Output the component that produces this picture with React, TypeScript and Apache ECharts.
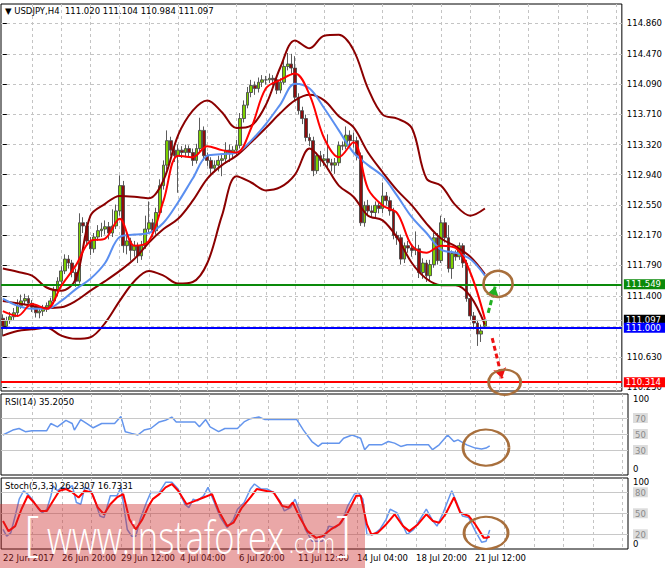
import React, { useEffect, useRef } from "react";
import * as echarts from "echarts";

const FONT = "DejaVu Sans";

// time axis
const tickLabels = ["22 Jun 2017", "26 Jun 20:00", "29 Jun 12:00", "4 Jul 04:00", "6 Jul 20:00", "11 Jul 12:00", "14 Jul 04:00", "18 Jul 20:00", "21 Jul 12:00"];
const labelBars = [0, 16, 32, 48, 64, 80, 96, 112, 128];
const gridBars = [8, 16, 24, 32, 40, 48, 56, 64, 72, 80, 88, 96, 104, 112, 120, 128, 136, 144, 152, 160, 168];
const slotCount = 170;

// price axis
const priceTicks = [114.86, 114.47, 114.09, 113.71, 113.32, 112.94, 112.55, 112.17, 111.79, 111.4, 111.02, 110.63, 110.25];
const priceLabels = [114.86, 114.47, 114.09, 113.71, 113.32, 112.94, 112.55, 112.17, 111.79, 111.4, 110.63, 110.25];

// levels
const supportLevel = 111.549;
const bidLevel = 111.097;
const pivotLevel = 111.0;
const targetLevel = 110.314;

// candles: [open, close, low, high]
const candles = [
  [111.12, 111.02, 110.89, 111.17], [111.02, 111.09, 110.98, 111.14], [111.09, 111.14, 111.05, 111.2], [111.14, 111.19, 111.1, 111.25],
  [111.19, 111.28, 111.15, 111.36], [111.28, 111.34, 111.24, 111.42], [111.34, 111.37, 111.3, 111.43], [111.37, 111.31, 111.27, 111.41],
  [111.31, 111.26, 111.2, 111.35], [111.26, 111.19, 111.13, 111.3], [111.19, 111.21, 111.12, 111.27], [111.21, 111.25, 111.15, 111.29],
  [111.25, 111.28, 111.2, 111.32], [111.28, 111.34, 111.24, 111.38], [111.34, 111.47, 111.3, 111.52], [111.47, 111.59, 111.4, 111.64],
  [111.59, 111.72, 111.55, 111.78], [111.72, 111.87, 111.68, 111.93], [111.87, 111.82, 111.75, 111.92], [111.82, 111.7, 111.64, 111.86],
  [111.7, 111.59, 111.52, 111.75], [111.59, 112.33, 111.56, 112.45], [112.33, 112.29, 112.2, 112.4], [112.29, 112.1, 112.04, 112.34],
  [112.1, 112.0, 111.92, 112.15], [112.0, 112.15, 111.95, 112.2], [112.15, 112.23, 112.1, 112.3], [112.23, 112.25, 112.15, 112.33],
  [112.25, 112.28, 112.18, 112.36], [112.28, 112.2, 112.12, 112.34], [112.2, 112.29, 112.15, 112.5], [112.29, 112.48, 112.25, 112.56],
  [112.48, 112.8, 112.42, 112.93], [112.8, 112.04, 111.95, 112.86], [112.04, 112.1, 111.93, 112.18], [112.1, 111.98, 111.85, 112.14],
  [111.98, 112.04, 111.9, 112.1], [112.04, 111.91, 111.82, 112.08], [111.91, 112.04, 111.86, 112.1], [112.04, 112.25, 112.0, 112.42],
  [112.25, 112.33, 112.2, 112.6], [112.33, 112.23, 112.15, 112.38], [112.23, 112.46, 112.18, 112.52], [112.46, 112.8, 112.42, 112.88],
  [112.8, 113.06, 112.75, 113.12], [113.06, 113.37, 113.0, 113.5], [113.37, 113.25, 113.18, 113.42], [113.25, 113.18, 113.1, 113.3],
  [113.18, 113.25, 112.71, 113.32], [113.25, 113.22, 113.15, 113.3], [113.22, 113.27, 113.16, 113.32], [113.27, 113.22, 113.16, 113.31],
  [113.22, 113.12, 113.05, 113.27], [113.12, 113.27, 113.08, 113.33], [113.27, 113.5, 113.22, 113.66], [113.5, 113.18, 113.12, 113.55],
  [113.18, 113.12, 113.05, 113.22], [113.12, 113.02, 112.95, 113.16], [113.02, 113.06, 112.97, 113.12], [113.06, 113.12, 112.98, 113.18],
  [113.12, 113.14, 112.92, 113.2], [113.14, 113.25, 113.08, 113.35], [113.25, 113.22, 113.1, 113.32], [113.22, 113.25, 113.15, 113.3],
  [113.25, 113.31, 113.18, 113.38], [113.31, 113.65, 113.27, 113.72], [113.65, 113.82, 113.6, 113.88], [113.82, 113.98, 113.78, 114.05],
  [113.98, 114.07, 113.92, 114.14], [114.07, 114.03, 113.95, 114.12], [114.03, 114.11, 113.98, 114.17], [114.11, 114.14, 114.05, 114.2],
  [114.14, 114.14, 114.08, 114.19], [114.14, 114.16, 114.1, 114.22], [114.16, 114.14, 114.07, 114.2], [114.14, 114.01, 113.96, 114.18],
  [114.01, 114.11, 113.97, 114.16], [114.11, 114.31, 114.08, 114.38], [114.31, 114.34, 114.26, 114.48], [114.34, 114.29, 114.2, 114.47],
  [114.29, 113.92, 113.88, 114.44], [113.92, 113.75, 113.7, 113.97], [113.75, 113.65, 113.58, 113.8], [113.65, 113.41, 113.36, 113.7],
  [113.41, 113.37, 113.3, 113.46], [113.37, 112.99, 112.92, 113.42], [112.99, 113.18, 112.95, 113.22], [113.18, 113.12, 113.04, 113.24],
  [113.12, 113.14, 113.05, 113.2], [113.14, 113.09, 113.0, 113.45], [113.09, 113.06, 112.98, 113.14], [113.06, 113.09, 112.95, 113.15],
  [113.09, 113.31, 113.05, 113.36], [113.31, 113.3, 113.25, 113.36], [113.3, 113.44, 113.26, 113.55], [113.44, 113.37, 113.3, 113.5],
  [113.37, 113.37, 113.28, 113.47], [113.37, 113.18, 113.12, 113.42], [113.18, 112.33, 112.29, 113.22], [112.33, 112.55, 112.28, 112.6],
  [112.55, 112.48, 112.42, 112.62], [112.48, 112.46, 112.4, 112.55], [112.46, 112.55, 112.4, 112.6], [112.55, 112.51, 112.45, 112.58],
  [112.51, 112.67, 112.45, 112.84], [112.67, 112.61, 112.55, 112.72], [112.61, 112.48, 112.42, 112.66], [112.48, 112.17, 112.12, 112.52],
  [112.17, 112.14, 112.05, 112.22], [112.14, 111.87, 111.8, 112.18], [111.87, 112.04, 111.82, 112.08], [112.04, 112.01, 111.95, 112.1],
  [112.01, 111.98, 111.9, 112.06], [111.98, 112.0, 111.92, 112.22], [112.0, 111.7, 111.63, 112.05], [111.7, 111.82, 111.62, 111.88],
  [111.82, 111.66, 111.58, 111.86], [111.66, 111.8, 111.6, 111.86], [111.8, 112.14, 111.76, 112.2], [112.14, 111.85, 111.8, 112.2],
  [111.85, 112.33, 111.82, 112.42], [112.33, 112.14, 112.08, 112.39], [112.14, 111.75, 111.7, 112.3], [111.75, 111.94, 111.62, 111.98],
  [111.94, 111.9, 111.85, 111.98], [111.9, 112.04, 111.86, 112.08], [112.04, 111.82, 111.76, 112.07], [111.82, 111.37, 111.33, 111.86],
  [111.37, 111.15, 111.1, 111.42], [111.15, 111.06, 110.98, 111.2], [111.06, 110.92, 110.77, 111.1], [110.92, 110.96, 110.82, 111.04],
  [111.02, 111.097, 110.984, 111.104],
];

// indicator lines sampled every 4 bars
const sampleBars = [0, 4, 8, 12, 16, 20, 24, 28, 32, 36, 40, 44, 48, 52, 56, 60, 64, 68, 72, 76, 80, 84, 88, 92, 96, 100, 104, 108, 112, 116, 120, 124, 128, 132];
const upperBand = [111.75, 111.71, 111.66, 111.51, 111.47, 111.62, 112.42, 112.57, 112.67, 112.66, 112.64, 112.87, 113.44, 113.75, 113.88, 113.73, 113.53, 113.56, 113.82, 114.3, 114.64, 114.54, 114.7, 114.71, 114.52, 114.03, 113.7, 113.65, 113.53, 112.89, 112.8, 112.55, 112.42, 112.51];
const middleBand = [111.34, 111.31, 111.28, 111.25, 111.26, 111.34, 111.47, 111.59, 111.72, 111.87, 112.08, 112.25, 112.38, 112.61, 112.89, 113.06, 113.18, 113.35, 113.53, 113.72, 113.88, 113.95, 113.88, 113.68, 113.54, 113.22, 112.97, 112.74, 112.55, 112.32, 112.13, 112.03, 111.9, 111.68];
const lowerBand = [110.9, 110.96, 110.98, 111.0, 110.9, 110.86, 110.88, 111.06, 111.34, 111.59, 111.72, 111.66, 111.56, 111.58, 111.82, 112.42, 112.92, 112.84, 112.74, 112.78, 112.94, 113.27, 113.08, 112.8, 112.66, 112.42, 112.36, 112.14, 111.82, 111.62, 111.54, 111.54, 111.4, 111.04];
const fastMA = [111.21, 111.15, 111.3, 111.24, 111.53, 111.79, 112.1, 112.13, 112.38, 112.04, 112.1, 112.61, 113.18, 113.16, 113.3, 113.25, 113.22, 113.53, 114.03, 114.14, 114.22, 113.95, 113.4, 113.16, 113.35, 112.76, 112.55, 112.45, 112.04, 111.95, 112.04, 112.01, 111.7, 111.11];
const slowMA = [111.37, 111.28, 111.24, 111.24, 111.34, 111.49, 111.62, 111.82, 112.15, 112.18, 112.2, 112.33, 112.59, 112.89, 113.18, 113.2, 113.22, 113.37, 113.58, 113.83, 114.09, 114.03, 113.78, 113.5, 113.22, 113.06, 112.92, 112.67, 112.4, 112.2, 111.99, 111.95, 111.87, 111.66];

// RSI(14): [bar, value]
const rsiPoints = [[0, 48.8], [2.7, 54.9], [4.4, 56.9], [6.1, 52.9], [7.9, 54.1], [11.9, 54.1], [13, 63.1], [14.8, 59], [17.1, 67.1], [18.8, 63.1], [19.4, 54.9], [21.1, 68], [22.8, 63.1], [24.5, 57.8], [26.8, 63.1], [30.3, 63.1], [32, 72], [33.2, 52.9], [34.9, 50.8], [36.6, 48.8], [38.3, 54.9], [40.1, 56.9], [42.4, 65.1], [44.1, 67.1], [45.8, 71.2], [47, 65.1], [52.1, 65.1], [53.3, 59], [55, 68], [56.2, 59], [58.5, 52.9], [60.2, 56.9], [63.6, 56.9], [65.4, 65.1], [67.1, 69.2], [69.4, 71.2], [71.1, 68], [79.7, 68], [81.5, 54.9], [83.8, 40.6], [85.5, 34.5], [86.6, 38.6], [91.2, 38.6], [92.4, 44.7], [94.7, 48.8], [97, 44.7], [98.1, 30.4], [99.3, 36.5], [102.7, 36.5], [104.5, 40.6], [106.2, 38.6], [107.9, 34.5], [109.6, 36.5], [115.4, 36.5], [116.5, 30.4], [118.3, 36.5], [120.6, 48.8], [122.3, 40.6], [123.4, 42.7], [125.8, 36.5], [128.1, 32.4], [129.8, 31.2], [131, 32.4], [132, 35.2]];

// Stoch(5,3,3)
const stochMain = [[0, 26.9], [1, 17.3], [2.1, 22.1], [3.3, 46.2], [4.4, 70.2], [5.6, 82.2], [6.7, 77.4], [7.9, 70.2], [9.6, 55.8], [10.7, 51], [11.9, 55.8], [13, 75], [13.6, 89.4], [14.8, 82.2], [15.9, 87], [17.6, 84.6], [18.8, 89.4], [19.9, 65.4], [21.1, 63], [22.2, 87], [23.4, 84.6], [24.5, 75], [26.3, 46.2], [27.4, 43.8], [29.1, 75], [30.9, 75], [32, 87], [33.7, 26.9], [34.9, 17.3], [36, 17.3], [37.2, 41.3], [38.9, 65.4], [40.1, 79.8], [42.4, 79.8], [44.1, 94.2], [45.8, 94.2], [47.5, 84.6], [49.3, 63], [50.4, 58.2], [51.6, 70.2], [52.7, 67.8], [54.4, 75], [55.6, 87], [57.3, 65.4], [59, 43.8], [60.8, 29.3], [62.5, 41.3], [63.6, 55.8], [65.4, 65.4], [67.1, 84.6], [68.2, 91.8], [70, 84.6], [71.7, 84.6], [73.4, 79.8], [75.1, 67.8], [76.3, 53.4], [78, 58.2], [79.2, 70.2], [80.9, 46.2], [82, 26.9], [83.8, 10.1], [86.6, 10.1], [88.4, 31.7], [90.1, 29.3], [91.8, 36.5], [93.5, 60.6], [95.3, 77.4], [96.4, 79.8], [97.6, 70.2], [98.7, 19.7], [100.4, 19.7], [102.2, 26.9], [103.9, 41.3], [105, 55.8], [106.8, 51], [107.9, 38.9], [109.6, 19.7], [111.4, 26.9], [113.1, 41.3], [114.8, 55.8], [116.6, 38.9], [117.7, 31.7], [119.4, 51], [121.7, 82.2], [123.4, 60.6], [124.6, 46.2], [126.3, 43.8], [128.1, 24.5], [129.8, 8.7], [131, 10.1], [132, 26.2]];
const stochSignal = [[0, 38.9], [1.5, 24.5], [3.3, 31.7], [5, 55.8], [6.7, 75], [8.4, 65.4], [10.2, 53.4], [11.9, 53.4], [13.6, 67.8], [15.3, 82.2], [17.1, 84.6], [18.8, 79.8], [20.5, 72.6], [22.2, 82.2], [24, 79.8], [25.7, 58.2], [27.4, 48.6], [29.1, 63], [30.9, 72.6], [32.6, 77.4], [34.3, 41.3], [36, 26.9], [37.8, 41.3], [39.5, 60.6], [40.6, 70.2], [42.4, 77.4], [44.1, 87], [45.8, 91.8], [47.5, 82.2], [49.8, 63], [52.1, 67.8], [54.4, 72.6], [56.7, 77.4], [58.5, 53.4], [60.8, 31.7], [62.5, 36.5], [64.8, 58.2], [67.1, 72.6], [68.8, 84.6], [71.1, 82.2], [73.4, 79.8], [75.7, 60.6], [77.4, 58.2], [78.6, 65.4], [80.3, 46.2], [82.6, 24.5], [84.9, 14.9], [86.6, 17.3], [88.9, 26.9], [91.2, 34.1], [93.5, 51], [95.8, 75], [97, 75], [98.7, 34.1], [99.9, 19.7], [101.6, 22.1], [103.9, 34.1], [106.2, 48.6], [108.5, 31.7], [110.2, 24.5], [112.5, 34.1], [114.8, 48.6], [116.6, 38.9], [118.3, 36.5], [120, 48.6], [122.3, 72.6], [124, 51], [126.3, 46.2], [128.1, 34.1], [130.4, 14.9], [131.2, 14.9], [132, 16.7]];

const rsiLevels = [70, 50, 30];
const stochLevels = [80, 50, 20];

const categories = Array.from({ length: slotCount }, (_, i) => String(i));
const pair = (vals: number[]) => sampleBars.map((b, k) => [b, vals[k]]);

const dashed = { color: "#c4c4c4", type: [3, 3] as any, width: 1 };
const txt = { fontFamily: FONT, fontSize: 8.5, color: "#000" };

function levelLine(v: number, color: string, width: number, bg: string) {
  return {
    yAxis: v,
    lineStyle: { color, width, type: "solid" },
    label: { show: true, position: "end", distance: 2, formatter: v.toFixed(3), backgroundColor: bg, color: "#fff", padding: [1, 4, 0, 2], fontFamily: FONT, fontSize: 8.5 },
  };
}

function valueX(gridIndex: number, showLabels: boolean) {
  return {
    type: "value",
    gridIndex,
    min: -0.5,
    max: slotCount - 0.5,
    axisLine: { show: false },
    axisTick: { show: false, customValues: gridBars },
    splitLine: { show: true, lineStyle: dashed },
    axisLabel: showLabels
      ? { show: true, customValues: labelBars, align: "left", margin: 4, ...txt, formatter: (v: number) => tickLabels[labelBars.indexOf(Math.round(v))] ?? "" }
      : { show: false },
  };
}

// sub-window scale labels: levels get a grey box, the ends sit just inside the window
function levelRich(shift: number) {
  return {
    n: { ...txt },
    top: { ...txt, padding: [shift * 2, 0, 0, 0] },
    bot: { ...txt, padding: [0, 0, shift * 2, 0] },
    lv: { fontFamily: FONT, fontSize: 8.5, color: "#8a8a8a", backgroundColor: "#dcdcdc", padding: [1, 2, 0, 2] },
  };
}
function subLabel(levels: number[]) {
  return (v: number) => (levels.includes(v) ? `{lv|${v}}` : v === 100 ? `{top|${v}}` : `{bot|${v}}`);
}

const ring = { color: "rgba(0,0,0,0)", borderColor: "#a86f3c", borderWidth: 2.5 };

const option: any = {
  animation: false,
  backgroundColor: "#fff",
  title: [
    { text: "▼ USDJPY,H4  111.020 111.104 110.984 111.097", left: 5, top: 6, padding: 0, textStyle: { ...txt, fontWeight: "normal" } },
    { text: "RSI(14) 35.2050", left: 5, top: 397, padding: 0, textStyle: { ...txt, fontWeight: "normal" } },
    { text: "Stoch(5,3,3) 26.2307 16.7331", left: 5, top: 481, padding: 0, textStyle: { ...txt, fontWeight: "normal" } },
  ],
  grid: [
    { left: 1, width: 627, top: 4, height: 387, show: true, borderColor: "#000", borderWidth: 1, backgroundColor: "#fff" },
    { left: 1, width: 627, top: 394, height: 81, show: true, borderColor: "#000", borderWidth: 1, backgroundColor: "#fff" },
    { left: 1, width: 627, top: 478, height: 71, show: true, borderColor: "#000", borderWidth: 1, backgroundColor: "#fff" },
  ],
  xAxis: [
    { type: "category", gridIndex: 0, data: categories, boundaryGap: true, show: false },
    valueX(0, false),
    valueX(1, false),
    valueX(2, true),
  ],
  yAxis: [
    {
      type: "value", gridIndex: 0, position: "right", min: 110.199, max: 115.101, scale: true,
      axisLine: { show: false },
      axisTick: { show: true, length: 4, customValues: priceTicks, lineStyle: { color: "#000" } },
      axisLabel: { show: true, customValues: priceLabels, margin: 5, ...txt, formatter: (v: number) => v.toFixed(3) },
      splitLine: { show: true, lineStyle: dashed },
    },
    {
      type: "value", gridIndex: 1, position: "right", min: -1.2, max: 100,
      axisLine: { show: false },
      axisTick: { show: false, customValues: [100, 70, 50, 30, 0] },
      axisLabel: { show: true, customValues: [100, 70, 50, 30, 0], margin: 5, rich: levelRich(5), formatter: subLabel(rsiLevels) },
      splitLine: { show: false },
    },
    {
      type: "value", gridIndex: 2, position: "right", min: -1, max: 100.4,
      axisLine: { show: false },
      axisTick: { show: false, customValues: [100, 80, 50, 20, 0] },
      axisLabel: { show: true, customValues: [100, 80, 50, 20, 0], margin: 5, rich: levelRich(4), formatter: subLabel(stochLevels) },
      splitLine: { show: false },
    },
  ],
  series: [
    {
      type: "candlestick", xAxisIndex: 0, yAxisIndex: 0, data: candles, barWidth: 3.2, z: 3,
      itemStyle: { color: "#7cd000", color0: "#8e0c0c", borderColor: "#4a4a4a", borderColor0: "#4a4a4a", borderWidth: 0.9 },
      markLine: {
        silent: true, symbol: ["none", "none"], animation: false,
        data: [
          levelLine(bidLevel, "#c8c8c8", 1, "#000"),
          levelLine(supportLevel, "#0a8a0a", 2, "#0a8a0a"),
          levelLine(pivotLevel, "#0000ff", 2, "#0000ff"),
          levelLine(targetLevel, "#ff0000", 2, "#ff0000"),
        ],
      },
    },
    { type: "line", xAxisIndex: 1, yAxisIndex: 0, data: pair(upperBand), smooth: 0.35, symbol: "none", lineStyle: { color: "#8b0000", width: 2 }, z: 4 },
    { type: "line", xAxisIndex: 1, yAxisIndex: 0, data: pair(middleBand), smooth: 0.35, symbol: "none", lineStyle: { color: "#8b0000", width: 2 }, z: 4 },
    { type: "line", xAxisIndex: 1, yAxisIndex: 0, data: pair(lowerBand), smooth: 0.35, symbol: "none", lineStyle: { color: "#8b0000", width: 2 }, z: 4 },
    {
      type: "line", xAxisIndex: 1, yAxisIndex: 0, data: pair(slowMA), smooth: 0.35, symbol: "none", lineStyle: { color: "#5b8ff0", width: 2 }, z: 5,
      markLine: {
        silent: true, animation: false, symbol: ["none", "arrow"], symbolSize: 10, label: { show: false },
        data: [
          [{ coord: [132.9, 111.19], lineStyle: { color: "#22b022", width: 3, type: [5, 3] } }, { coord: [134.8, 111.52] }],
          [{ coord: [134.0, 110.87], lineStyle: { color: "#ee1111", width: 3, type: [5, 3] } }, { coord: [136.7, 110.36] }],
        ],
      },
      markPoint: {
        silent: true, animation: false, symbol: "circle", label: { show: false }, itemStyle: ring,
        data: [
          { coord: [135.6, 111.556], symbolSize: [29, 26] },
          { coord: [137.4, 110.31], symbolSize: [32, 25] },
        ],
      },
    },
    { type: "line", xAxisIndex: 1, yAxisIndex: 0, data: pair(fastMA), smooth: 0.35, symbol: "none", lineStyle: { color: "#ff0000", width: 2 }, z: 6 },
    {
      type: "line", xAxisIndex: 2, yAxisIndex: 1, data: rsiPoints, symbol: "none", lineStyle: { color: "#6495ed", width: 1.5 },
      markLine: { silent: true, symbol: ["none", "none"], label: { show: false }, lineStyle: { color: "#c8c8c8", width: 1, type: "solid" }, data: rsiLevels.map((v) => ({ yAxis: v })) },
      markPoint: { silent: true, symbol: "circle", label: { show: false }, itemStyle: ring, data: [{ coord: [131.0, 33], symbolSize: [46, 36] }] },
    },
    {
      type: "line", xAxisIndex: 3, yAxisIndex: 2, data: stochMain, symbol: "none", lineStyle: { color: "#6495ed", width: 1.5 },
      markLine: { silent: true, symbol: ["none", "none"], label: { show: false }, lineStyle: { color: "#c8c8c8", width: 1, type: "solid" }, data: stochLevels.map((v) => ({ yAxis: v })) },
      markPoint: { silent: true, symbol: "circle", label: { show: false }, itemStyle: ring, data: [{ coord: [131.0, 22], symbolSize: [44, 32] }] },
    },
    { type: "line", xAxisIndex: 3, yAxisIndex: 2, data: stochSignal, symbol: "none", lineStyle: { color: "#ff0000", width: 2 } },
  ],
  graphic: [
    { type: "rect", z: 100, shape: { x: 0, y: 504, width: 365, height: 64 }, style: { fill: "rgba(205,45,45,0.42)" } },
    { type: "text", z: 101, x: 24, y: 507, style: { text: "[", fill: "#fff", font: '200 48px "Open Sans"' } },
    { type: "text", z: 101, x: 47, y: 513, scaleX: 0.75, style: { text: "www.instaforex", fill: "#fff", font: '300 46px "Open Sans"' } },
    { type: "text", z: 101, x: 289, y: 528, scaleX: 0.75, style: { text: ".com", fill: "#fff", font: '300 28px "Open Sans"' } },
    { type: "text", z: 101, x: 336, y: 507, style: { text: "]", fill: "#fff", font: '200 48px "Open Sans"' } },
  ],
};

export default function App() {
  const ref = useRef<HTMLDivElement>(null);
  useEffect(() => {
    document.body.style.margin = "0";
    const chart = echarts.init(ref.current!, null, { renderer: "svg" });
    chart.setOption(option);
    return () => chart.dispose();
  }, []);
  return <div ref={ref} style={{ width: 665, height: 568 }} />;
}
